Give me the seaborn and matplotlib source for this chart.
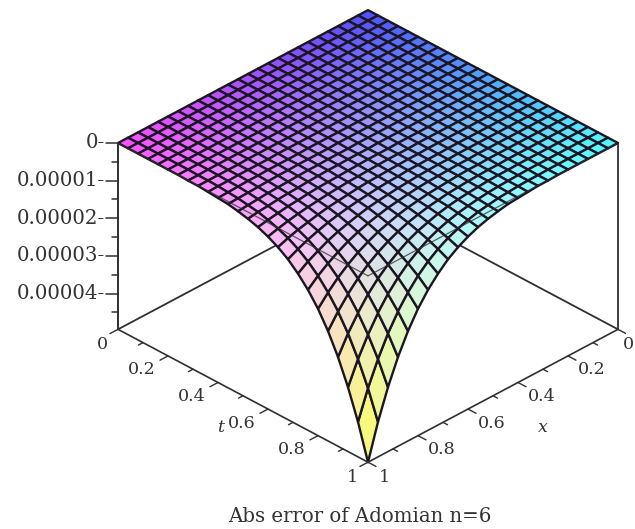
#!/usr/bin/env python3
"""Abs error of Adomian n=6: surface over (x, t) with a Maple-style box."""

import numpy as np
import matplotlib
matplotlib.use('Agg')
import matplotlib.pyplot as plt
from mpl_toolkits.mplot3d import proj3d
import seaborn as sns

# surface values, units of 1e-7, rows = t, columns = x
ERR_ROWS = [
    [0] * 26,
    [0] * 26,
    [0] * 26,
    [0] * 26,
    [0] * 26,
    [0] * 26,
    [0] * 26,
    [0] * 24 + [1, 1],
    [0] * 21 + [1, 1, 1, 1, 1],
    [0] * 19 + [1, 1, 1, 1, 2, 2, 3],
    [0] * 17 + [1, 1, 1, 1, 2, 2, 3, 4, 5],
    [0] * 15 + [1, 1, 1, 1, 2, 2, 3, 4, 5, 6, 7],
    [0] * 14 + [1, 1, 1, 2, 2, 3, 4, 5, 6, 8, 10, 12],
    [0] * 13 + [1, 1, 1, 2, 2, 3, 4, 6, 7, 9, 12, 14, 18],
    [0] * 12 + [1, 1, 1, 2, 3, 4, 5, 6, 8, 11, 13, 17, 21, 26],
    [0] * 11 + [1, 1, 1, 2, 3, 4, 5, 7, 9, 12, 15, 19, 24, 30, 37],
    [0] * 11 + [1, 1, 2, 3, 4, 5, 7, 10, 13, 16, 21, 27, 33, 41, 51],
    [0] * 10 + [1, 1, 2, 2, 4, 5, 7, 10, 13, 17, 22, 28, 36, 45, 56, 69],
    [0] * 10 + [1, 1, 2, 3, 5, 7, 10, 13, 17, 23, 30, 38, 48, 61, 75, 93],
    [0] * 9 + [1, 1, 2, 3, 4, 6, 9, 13, 17, 23, 30, 39, 50, 64, 80, 99, 122],
    [0] * 9 + [1, 1, 2, 4, 6, 8, 12, 16, 22, 30, 39, 51, 65, 83, 104, 129, 158],
    [0] * 8 + [1, 1, 2, 3, 5, 7, 11, 15, 21, 28, 38, 50, 65, 83, 106, 133, 165, 203],
    [0] * 8 + [1, 1, 2, 4, 6, 9, 13, 19, 27, 36, 48, 64, 83, 106, 134, 169, 209, 258],
    [0] * 8 + [1, 2, 3, 5, 8, 12, 17, 24, 33, 45, 61, 80, 104, 133, 169, 212, 263, 324],
    [0] * 7 + [1, 1, 2, 4, 6, 10, 14, 21, 30, 41, 56, 75, 99, 129, 165, 209, 263, 326, 402],
    [0] * 7 + [1, 1, 3, 5, 7, 12, 18, 26, 37, 51, 69, 93, 122, 158, 203, 258, 324, 402, 495],
]

FLAT_TICKS = [0, 0.2, 0.4, 0.6, 0.8, 1]
FLAT_LABELS = ['0', '0.2', '0.4', '0.6', '0.8', '1']
Z_TICKS = [0, 1e-5, 2e-5, 3e-5, 4e-5]
Z_LABELS = ['0-', '0.00001-', '0.00002-', '0.00003-', '0.00004-']
CAPTION = 'Abs error of Adomian n=6'

W, H = 635, 529
LINE = '#2f2f2f'
TEXT = '#333333'

sns.set_theme(style='white')
plt.rcParams['font.family'] = ['DejaVu Serif']

err = np.array(ERR_ROWS, dtype=float)
n = err.shape[0]
xs = np.linspace(0, 1, n)
X, T = np.meshgrid(xs, xs)
Z = -err * 1e-7
z_floor = Z.min()

fig = plt.figure(figsize=(W / 100, H / 100), dpi=100, facecolor='white')
size = 560.0
ax = fig.add_axes([0, 0, size / W, size / H], projection='3d',
                  computed_zorder=False, proj_type='ortho')
ax.view_init(elev=32.1, azim=45)
ax.set_box_aspect((1, 1, 220 / 353.6))
ax.set_xlim(0, 1)
ax.set_ylim(0, 1)
ax.set_zlim(z_floor, 0)
ax.set_axis_off()
ax.patch.set_alpha(0)


def to_px(x, t, z):
    """Picture pixel (y down) of a point in data space"""
    u, v, _ = proj3d.proj_transform(x, t, z, ax.get_proj())
    px, py = ax.transData.transform((u, v))
    return px, H - py


def fit_axes():
    """Scale and shift the square axes onto the reference corners"""
    global size
    left, bottom = 0.0, 0.0
    for _ in range(3):
        ax.set_position([left / W, bottom / H, size / W, size / H])
        fig.canvas.draw()
        xl, yl = to_px(1, 0, 0)
        xr, _ = to_px(0, 1, 0)
        factor = 500 / (xr - xl)
        size *= factor
        left = 118 - (xl - left) * factor
        bottom = (H - 143) - ((H - yl) - bottom) * factor
    ax.set_position([left / W, bottom / H, size / W, size / H])
    fig.canvas.draw()


# Maple "xyz" shading: red follows x, green follows t, blue follows height
colors = np.dstack([0.32 + 0.68 * X,
                    0.32 + 0.68 * T,
                    0.12 + 0.88 * (1 - err / err.max()) ** 0.8,
                    np.ones_like(X)])

# box lines that sit behind the surface
for line in [([1, 0], [0, 0], [z_floor, z_floor]),
             ([0, 0], [1, 0], [z_floor, z_floor]),
             ([0, 0], [1, 1], [z_floor, 0])]:
    ax.plot(*line, color=LINE, lw=1.3, zorder=1)

ax.plot_surface(X, T, Z, facecolors=colors, rstride=1, cstride=1, shade=False,
                edgecolor='#1c1622', linewidth=1.7, antialiased=True, zorder=2)

# front axes
ax.plot([1, 1], [0, 0], [z_floor, 0], color=LINE, lw=1.4, zorder=3)
ax.plot([1, 1], [0, 1], [z_floor, z_floor], color=LINE, lw=1.2, zorder=3)
ax.plot([0, 1], [1, 1], [z_floor, z_floor], color=LINE, lw=1.2, zorder=3)

# top front box edges show faintly through the surface
ax.plot([1, 1], [0, 1], [0, 0], color=LINE, lw=0.9, alpha=0.75, zorder=3)
ax.plot([0, 1], [1, 1], [0, 0], color=LINE, lw=0.9, alpha=0.75, zorder=3)

# ticks on the two floor axes, minor at the odd tenths
for k in range(11):
    v = k / 10
    d = 0.032 if k % 2 == 0 else 0.018
    ax.plot([1, 1 + d], [v, v], [z_floor, z_floor], color=LINE, lw=1.0, zorder=3)
    ax.plot([v, v], [1, 1 + d], [z_floor, z_floor], color=LINE, lw=1.0, zorder=3)

# ticks on the height axis
for k in range(10):
    z = -k * 0.5e-5
    d = 0.024 if k % 2 == 0 else 0.013
    ax.plot([1, 1 + d], [0, -d], [z, z], color=LINE, lw=1.1, zorder=3)

fit_axes()


def label(px, py, s, size=12.6, **kw):
    fig.text(px / W, 1 - py / H, s, color=TEXT, fontsize=size,
             va='center', **kw)


for v, s in zip(FLAT_TICKS, FLAT_LABELS):
    tx, ty = to_px(1, v, z_floor)
    dx = -16 if s in ('0', '1') else -26
    dy = 15 if s in ('0', '1') else 14
    label(tx + dx, ty + dy, s, ha='center')
    tx, ty = to_px(v, 1, z_floor)
    dx = 16 if s in ('0', '1') else 24
    # the right-hand 0 runs off the picture otherwise
    label(min(tx + dx, 628), ty + dy, s, ha='center')

for z, s in zip(Z_TICKS, Z_LABELS):
    tx, ty = to_px(1, 0, -z)
    label(tx - 13, ty, s, size=14.2, ha='right')

label(221, 428, 't', ha='center', style='italic')
label(543, 428, 'x', ha='center', style='italic')
label(360, 517, CAPTION, size=14.2, ha='center')

fig.savefig('out.png', dpi=100, facecolor='white')
